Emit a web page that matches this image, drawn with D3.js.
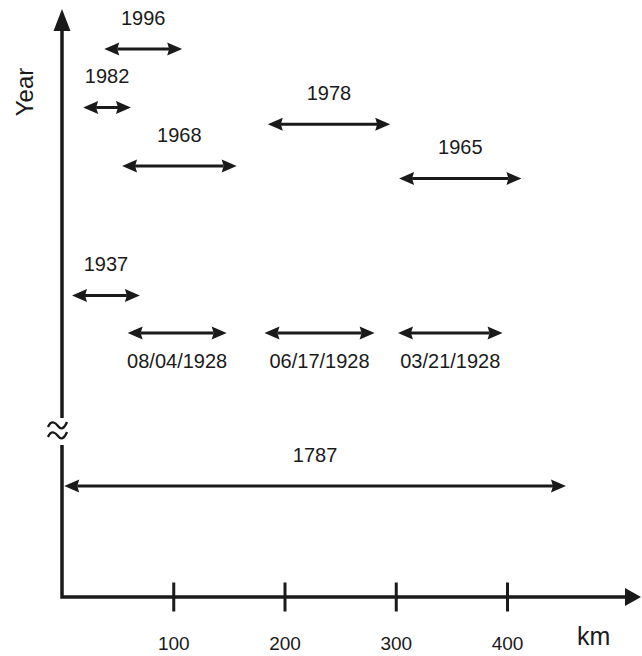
<!DOCTYPE html>
<html><head><meta charset="utf-8">
<script src="https://cdn.jsdelivr.net/npm/d3@7"></script>
<style>body{margin:0;background:#fff}</style>
</head><body>
<svg id="c" width="642" height="656"></svg>
<script>
// ---- data ----
const labels  = ["1996","1982","1978","1968","1965","1937","08/04/1928","06/17/1928","03/21/1928","1787"];
const years   = [1996, 1982, 1978, 1968, 1965, 1937, 1928, 1928, 1928, 1787];
const startKm = [38, 19, 185, 54, 303, 9, 59, 182, 302, 2];
const endKm   = [108, 62, 295, 157, 413, 70, 148, 281, 396, 453];
const xTicks  = [100, 200, 300, 400];
const xTitle = "km", yTitle = "Year";

const data = labels.map((l,i)=>({label:l, year:years[i], s:startKm[i], e:endKm[i]}));

const svg = d3.select("#c");
const INK = "#1a1a1a";
const FONT = "'Liberation Sans', Arial, Helvetica, sans-serif";
const X0 = 62, XAXIS_Y = 597;

const x = d3.scaleLinear().domain([0,400]).range([X0,507]);
// piecewise scale: segment below the axis break is compressed
const y = d3.scaleLinear().domain([1787,1928,1996]).range([486,333,49]);

// ---- axes ----
svg.append("path").attr("d",`M${X0},445 L${X0},${XAXIS_Y} L628,${XAXIS_Y}`)
  .attr("fill","none").attr("stroke",INK).attr("stroke-width",3.5).attr("stroke-linejoin","miter");
svg.append("path").attr("d",`M${X0},418 L${X0},26`)
  .attr("fill","none").attr("stroke",INK).attr("stroke-width",3.5);
svg.append("path").attr("d",`M${X0},9 L${X0-8.5},31 L${X0+8.5},31 Z`).attr("fill",INK);
svg.append("path").attr("d",`M641,${XAXIS_Y} L625,${XAXIS_Y-9} L625,${XAXIS_Y+9} Z`).attr("fill",INK);
// break symbol
[0,10].forEach(dy=>{
  svg.append("path").attr("d",`M48,${427+dy} C51,${420+dy} 55,${422+dy} 58,${426+dy} S64,${429+dy} 67,${422+dy}`)
    .attr("fill","none").attr("stroke",INK).attr("stroke-width",2.4);
});

const gx = svg.append("g").attr("transform",`translate(0,${XAXIS_Y})`)
  .call(d3.axisBottom(x).tickValues(xTicks).tickSize(0).tickPadding(0));
gx.select(".domain").remove();
gx.selectAll(".tick line").attr("y1",-14.5).attr("y2",14.5).attr("stroke",INK).attr("stroke-width",3);
gx.selectAll(".tick text").attr("y",53).attr("dy",0).attr("fill",INK)
  .style("font-family",FONT).style("font-size","19px");

svg.append("text").attr("x",577).attr("y",645).text(xTitle)
  .attr("fill",INK).style("font-family",FONT).style("font-size","25px");
svg.append("text").attr("transform","translate(33,92) rotate(-90)").attr("text-anchor","middle").text(yTitle)
  .attr("fill",INK).style("font-family",FONT).style("font-size","24px");

// ---- double arrows ----
const HL = 15, HW = 6.5;
const arr = svg.append("g").selectAll("g").data(data).join("g");
arr.append("line")
  .attr("x1",d=>x(d.s)+HL-2).attr("x2",d=>x(d.e)-HL+2)
  .attr("y1",d=>y(d.year)).attr("y2",d=>y(d.year))
  .attr("stroke",INK).attr("stroke-width",3);
arr.append("path").attr("fill",INK)
  .attr("d",d=>{const a=x(d.s), yy=y(d.year); return `M${a},${yy} L${a+HL},${yy-HW} L${a+HL-2},${yy} L${a+HL},${yy+HW} Z`;});
arr.append("path").attr("fill",INK)
  .attr("d",d=>{const b=x(d.e), yy=y(d.year); return `M${b},${yy} L${b-HL},${yy-HW} L${b-HL+2},${yy} L${b-HL},${yy+HW} Z`;});
arr.append("text")
  .attr("x",d=>(x(d.s)+x(d.e))/2)
  .attr("y",d=>d.label.includes("/") ? y(d.year)+35 : y(d.year)-24)
  .attr("text-anchor","middle").text(d=>d.label)
  .attr("fill",INK).style("font-family",FONT).style("font-size","20px");
</script>
</body></html>
